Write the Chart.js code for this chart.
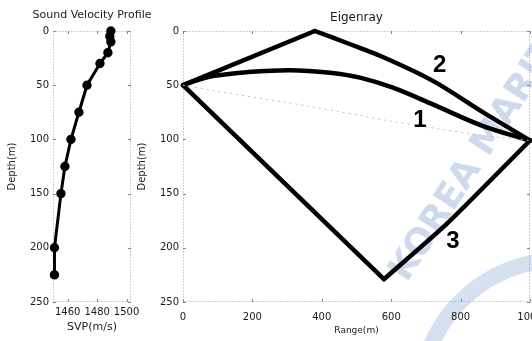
<!DOCTYPE html>
<html>
<head>
  <title>Sound Velocity Profile / Eigenray</title>
  <script src="https://cdn.jsdelivr.net/npm/chart.js@4.4.0/dist/chart.umd.min.js"></script>
  <style>
    html, body { margin: 0; padding: 0; width: 532px; height: 341px; background: #fff; overflow: hidden; }
    #wrap { position: relative; width: 532px; height: 341px; }
    #svpChart { position: absolute; left: 0; top: 0; }
    #rayChart { position: absolute; left: 134px; top: 0; }
  </style>
</head>
<body>
<div id="wrap">
  <canvas id="svpChart" width="186" height="341"></canvas>
  <canvas id="rayChart" width="398" height="341"></canvas>
</div>
<script>
// sound speed profile (depth m, speed m/s)
const svpDepth = [0, 5, 10, 20, 30, 50, 75, 100, 125, 150, 200, 225];
const svpSpeed = [1489.3, 1488.6, 1489.3, 1487.3, 1481.9, 1473.1, 1467.6, 1462.2, 1458.1, 1455.4, 1451, 1451];
const svpTicks = [1460, 1480, 1500];
const depthTicks = [0, 50, 100, 150, 200, 250];
const rangeTicks = [0, 200, 400, 600, 800, 1000];

// eigenrays from the source (0 m, 50 m) to the receiver (1000 m)
const ray1Range = [0, 49, 86, 184, 308, 424, 510, 605, 720, 865, 1000];
const ray1Depth = [50, 44.7, 41.5, 38, 36.1, 38.5, 43, 52.3, 67.7, 87.7, 101];
// surface-reflected ray: up to the surface bounce, then down to the receiver
const ray2UpRange = [0, 380];
const ray2UpDepth = [50, 0];
const ray2DownRange = [380, 480, 576, 720, 865, 1000];
const ray2DownDepth = [0, 12, 24, 46, 75, 101];
// bottom-reflected ray
const ray3DownRange = [0, 579];
const ray3DownDepth = [50, 229];
const ray3UpRange = [579, 760, 1000];
const ray3UpDepth = [229, 178, 101];
const directRange = [0, 86, 375, 597, 856, 1000];
const directDepth = [50, 55, 70, 83, 96, 101];

const rayNames = ['1', '2', '3'];
const rayNameRange = [683, 740, 778];
const rayNameDepth = [82, 32, 194];

const FONT = 'DejaVu Sans';
const INK = '#1a1a1a';

function pts(xs, ys) {
  return xs.map((x, i) => ({x: x, y: ys[i]}));
}
function fixedTicks(list) {
  return scale => { scale.ticks = list.map(v => ({value: v})); };
}

// dotted box with small inward ticks
const frame = {
  id: 'frame',
  beforeDatasetsDraw(chart) {
    const {ctx, chartArea: a, scales} = chart;
    ctx.save();
    ctx.strokeStyle = '#a0a0a0';
    ctx.lineWidth = 1;
    ctx.setLineDash([1, 2]);
    ctx.strokeRect(a.left + 0.5, a.top + 0.5, a.right - a.left - 1, a.bottom - a.top - 1);
    ctx.setLineDash([]);
    ctx.strokeStyle = '#888';
    ctx.beginPath();
    scales.x.ticks.forEach(t => {
      const px = Math.round(scales.x.getPixelForValue(t.value)) + 0.5;
      ctx.moveTo(px, a.bottom); ctx.lineTo(px, a.bottom - 3);
      ctx.moveTo(px, a.top); ctx.lineTo(px, a.top + 3);
    });
    scales.y.ticks.forEach(t => {
      const py = Math.round(scales.y.getPixelForValue(t.value)) + 0.5;
      ctx.moveTo(a.left, py); ctx.lineTo(a.left + 3, py);
      ctx.moveTo(a.right, py); ctx.lineTo(a.right - 3, py);
    });
    ctx.stroke();
    ctx.restore();
  }
};

// panel heading centred over the plot area
const panelTitle = {
  id: 'panelTitle',
  afterDraw(chart, args, opts) {
    const {ctx, chartArea: a} = chart;
    ctx.save();
    ctx.fillStyle = INK;
    ctx.font = opts.size + 'px "' + FONT + '"';
    ctx.textAlign = 'center';
    ctx.textBaseline = 'middle';
    ctx.fillText(opts.text, (a.left + a.right) / 2, opts.y);
    ctx.restore();
  }
};

function axisCommon(min, max, ticks, title, o) {
  return {
    type: 'linear',
    min: min,
    max: max,
    reverse: !!o.reverse,
    afterBuildTicks: fixedTicks(ticks),
    grid: {display: false, drawTicks: false},
    border: {display: false},
    ticks: {
      autoSkip: false, maxRotation: 0, padding: o.tickPad, color: INK,
      font: {family: FONT, size: 10},
      callback: v => String(v)
    },
    title: {display: true, text: title, color: INK, padding: o.titlePad, font: {family: FONT, size: o.titleSize}},
    afterFit: o.fit
  };
}

new Chart(document.getElementById('svpChart'), {
  type: 'scatter',
  data: {
    datasets: [{
      data: pts(svpSpeed, svpDepth),
      showLine: true,
      borderColor: '#000',
      backgroundColor: '#000',
      borderWidth: 3,
      pointRadius: 3.2,
      pointHoverRadius: 3.2,
      clip: false
    }]
  },
  options: {
    responsive: false,
    animation: false,
    layout: {padding: {top: 31, right: 55, left: 0, bottom: 0}},
    plugins: {
      legend: {display: false},
      tooltip: {enabled: false},
      panelTitle: {text: 'Sound Velocity Profile', y: 15, size: 11}
    },
    scales: {
      x: axisCommon(1450, 1503, svpTicks, 'SVP(m/s)', {
        tickPad: 4, titlePad: {top: 0, bottom: 7}, titleSize: 11,
        fit: s => { s.height = 39; s.paddingLeft = 0; s.paddingRight = 0; }
      }),
      y: axisCommon(0, 250, depthTicks, 'Depth(m)', {
        reverse: true, tickPad: 4, titlePad: {top: 6, bottom: 0}, titleSize: 10,
        fit: s => { s.width = 53; s.paddingTop = 0; s.paddingBottom = 0; }
      })
    }
  },
  plugins: [frame, panelTitle]
});

// faint crest lettering and wave band behind the ray plot
const watermark = {
  id: 'watermark',
  beforeDraw(chart) {
    const ctx = chart.ctx;
    ctx.save();
    ctx.fillStyle = 'rgba(165,188,220,0.55)';
    ctx.strokeStyle = 'rgba(165,188,220,0.45)';
    ctx.lineWidth = 16;
    ctx.beginPath();
    ctx.arc(426, 400, 140, 200 * Math.PI / 180, 262 * Math.PI / 180);
    ctx.stroke();
    ctx.translate(265, 278);
    ctx.rotate(-57 * Math.PI / 180);
    ctx.font = 'bold 36px "' + FONT + '"';
    ctx.textBaseline = 'middle';
    ctx.fillText('KOREA MARITIME UNIVERSITY', 0, 0);
    ctx.restore();
  }
};

// ray numbers placed in data coordinates
const rayLabels = {
  id: 'rayLabels',
  afterDatasetsDraw(chart) {
    const {ctx, scales} = chart;
    ctx.save();
    ctx.fillStyle = '#000';
    ctx.font = 'bold 24px "Liberation Sans"';
    ctx.textAlign = 'center';
    ctx.textBaseline = 'middle';
    rayNames.forEach((n, i) => {
      ctx.fillText(n, scales.x.getPixelForValue(rayNameRange[i]), scales.y.getPixelForValue(rayNameDepth[i]));
    });
    ctx.restore();
  }
};

function ray(xs, ys, tension) {
  return {
    data: pts(xs, ys), showLine: true, borderColor: '#000', borderWidth: 4.5,
    pointRadius: 0, tension: tension, clip: false, borderCapStyle: 'round'
  };
}

new Chart(document.getElementById('rayChart'), {
  type: 'scatter',
  data: {
    datasets: [
      {data: pts(directRange, directDepth), showLine: true, borderColor: '#bdbdbd', borderWidth: 1, borderDash: [2, 4], pointRadius: 0, tension: 0.3, clip: false},
      ray(ray1Range, ray1Depth, 0.35),
      ray(ray2UpRange, ray2UpDepth, 0),
      ray(ray2DownRange, ray2DownDepth, 0.35),
      ray(ray3DownRange, ray3DownDepth, 0),
      ray(ray3UpRange, ray3UpDepth, 0.2)
    ]
  },
  options: {
    responsive: false,
    animation: false,
    layout: {padding: {top: 31, right: 2, left: 0, bottom: 0}},
    plugins: {
      legend: {display: false},
      tooltip: {enabled: false},
      panelTitle: {text: 'Eigenray', y: 18, size: 12}
    },
    scales: {
      x: axisCommon(0, 1000, rangeTicks, 'Range(m)', {
        tickPad: 9, titlePad: {top: 0, bottom: 5}, titleSize: 9,
        fit: s => { s.height = 39; s.paddingLeft = 0; s.paddingRight = 0; }
      }),
      y: axisCommon(0, 250, depthTicks, 'Depth(m)', {
        reverse: true, tickPad: 4, titlePad: {top: 2, bottom: 0}, titleSize: 10,
        fit: s => { s.width = 49; s.paddingTop = 0; s.paddingBottom = 0; }
      })
    }
  },
  plugins: [watermark, frame, rayLabels, panelTitle]
});
</script>
</body>
</html>
